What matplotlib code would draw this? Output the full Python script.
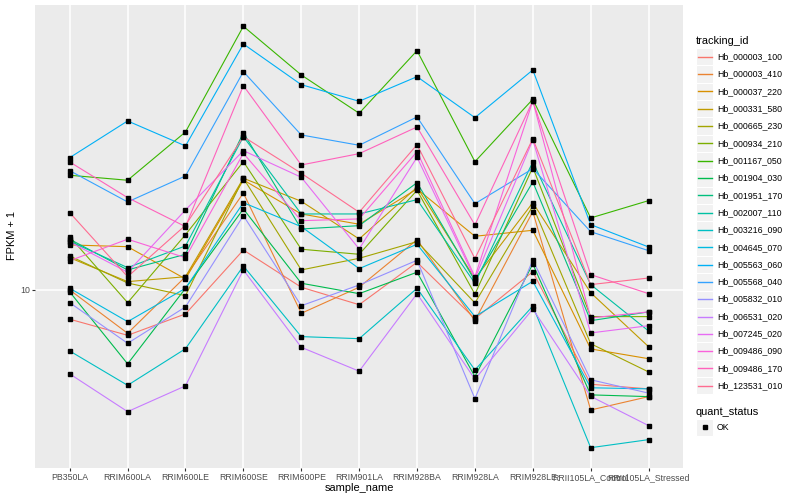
import matplotlib
matplotlib.use('Agg')
import matplotlib.pyplot as plt
from matplotlib.patches import Rectangle
from matplotlib.lines import Line2D
from matplotlib.ticker import NullLocator, FixedLocator

plt.rcParams['font.family'] = ['Liberation Sans', 'DejaVu Sans']

samples = ["PB350LA", "RRIM600LA", "RRIM600LE", "RRIM600SE", "RRIM600PE", "RRIM901LA",
           "RRIM928BA", "RRIM928LA", "RRIM928LE", "RRII105LA_Control", "RRII105LA_Stressed"]
ids = ["Hb_000003_100", "Hb_000003_410", "Hb_000037_220", "Hb_000331_580", "Hb_000665_230",
       "Hb_000934_210", "Hb_001167_050", "Hb_001904_030", "Hb_001951_170", "Hb_002007_110",
       "Hb_003216_090", "Hb_004645_070", "Hb_005563_060", "Hb_005568_040", "Hb_005832_010",
       "Hb_006531_020", "Hb_007245_020", "Hb_009486_090", "Hb_009486_170", "Hb_123531_010"]
colors = ["#F8766D", "#EA8331", "#D89000", "#C09B00", "#A3A500", "#7CAE00", "#39B600", "#00BB4E",
          "#00BF7D", "#00C1A3", "#00BFC4", "#00BAE0", "#00B0F6", "#35A2FF", "#9590FF", "#C77CFF",
          "#E76BF3", "#FA62DB", "#FF62BC", "#FF6C91"]

# FPKM + 1 per gene, in sample order
hb_000003_100 = [7.99, 7.06, 8.32, 13.59, 10.21, 8.93, 12.37, 8.02, 11.51, 4.85, 4.68]
hb_000003_410 = [10.0, 7.17, 11.07, 21.05, 8.36, 10.21, 14.71, 7.9, 18.24, 3.98, 4.41]
hb_000037_220 = [14.13, 13.94, 10.88, 23.26, 17.92, 16.56, 21.71, 15.1, 15.81, 6.36, 5.9]
hb_000331_580 = [12.81, 10.66, 11.07, 23.57, 19.75, 14.79, 22.0, 10.91, 19.54, 9.79, 6.47]
hb_000665_230 = [12.98, 10.55, 9.57, 23.57, 11.66, 12.75, 14.49, 9.05, 19.05, 6.62, 5.33]
hb_000934_210 = [15.05, 9.07, 15.29, 26.77, 13.67, 13.15, 21.49, 9.68, 25.64, 8.15, 8.15]
hb_001167_050 = [24.12, 23.21, 33.63, 75.68, 52.08, 38.82, 62.76, 26.77, 43.22, 17.38, 19.85]
hb_001904_030 = [9.85, 5.67, 10.13, 18.62, 10.53, 9.72, 11.46, 5.14, 12.21, 4.47, 4.41]
hb_001951_170 = [14.76, 11.66, 13.15, 33.45, 15.97, 16.38, 22.79, 10.74, 22.91, 7.9, 8.45]
hb_002007_110 = [14.53, 11.87, 14.02, 32.43, 17.92, 17.92, 20.0, 10.53, 26.71, 10.42, 7.3]
hb_003216_090 = [6.26, 4.81, 6.37, 12.02, 6.99, 6.88, 10.13, 5.41, 8.84, 2.98, 3.17]
hb_004645_070 = [10.13, 7.84, 10.13, 19.54, 16.26, 11.78, 14.2, 8.15, 10.69, 4.72, 4.68]
hb_005563_060 = [27.61, 36.59, 30.2, 66.07, 48.34, 42.56, 51.4, 37.53, 54.12, 16.51, 13.91]
hb_005568_040 = [24.98, 19.65, 23.99, 53.42, 32.86, 30.36, 37.73, 19.39, 25.37, 15.64, 13.52]
hb_005832_010 = [9.07, 6.64, 8.78, 17.69, 8.86, 10.39, 12.56, 4.34, 12.59, 5.02, 4.53]
hb_006531_020 = [5.25, 3.93, 4.79, 11.66, 6.44, 5.36, 9.72, 5.04, 8.64, 4.42, 3.53]
hb_007245_020 = [14.45, 11.46, 18.48, 29.13, 23.75, 13.7, 27.69, 10.91, 31.62, 7.19, 7.6]
hb_009486_090 = [12.52, 14.76, 12.81, 28.55, 17.02, 17.25, 28.91, 11.07, 42.66, 8.07, 8.45]
hb_009486_170 = [26.71, 20.31, 16.26, 47.97, 26.1, 28.47, 34.94, 16.47, 42.66, 11.25, 9.72]
hb_123531_010 = [18.1, 11.07, 16.43, 32.43, 24.49, 18.16, 30.5, 12.72, 31.94, 10.42, 10.96]

series = [hb_000003_100, hb_000003_410, hb_000037_220, hb_000331_580, hb_000665_230,
          hb_000934_210, hb_001167_050, hb_001904_030, hb_001951_170, hb_002007_110,
          hb_003216_090, hb_004645_070, hb_005563_060, hb_005568_040, hb_005832_010,
          hb_006531_020, hb_007245_020, hb_009486_090, hb_009486_170, hb_123531_010]

fig = plt.figure(figsize=(8, 5), dpi=100)
ax = fig.add_axes([35 / 800, 1 - 468.3 / 500, (683.3 - 35) / 800, (468.3 - 5) / 500])
ax.set_facecolor('#EBEBEB')
ax.set_yscale('log')
ax.set_xlim(-0.6, len(samples) - 0.4)
ax.set_ylim(2.544, 89.1)
ax.yaxis.set_major_locator(FixedLocator([10]))
ax.set_yticklabels(['10'])
ax.yaxis.set_minor_locator(NullLocator())
ax.set_xticks(range(len(samples)))
ax.set_xticklabels(samples)
ax.grid(True, which='major', color='white', linewidth=1.1)
ax.set_axisbelow(True)
for s in ax.spines.values():
    s.set_visible(False)
ax.tick_params(axis='both', which='major', length=2.2, width=0.8, color='#333333',
               labelcolor='#4D4D4D', labelsize=6.3, pad=1.5)

x = list(range(len(samples)))
for row, c in zip(series, colors):
    ax.plot(x, row, color=c, lw=0.8, zorder=2)
for row in series:
    ax.plot(x, row, ls='none', marker='s', ms=2.2, color='black', zorder=3)

fig.text(359 / 800, 1 - 488 / 500, 'sample_name', ha='center', va='center', fontsize=7.9)
fig.text(12 / 800, 1 - 236 / 500, 'FPKM + 1', ha='center', va='center', rotation=90, fontsize=7.9)

ov = fig.add_axes([0, 0, 1, 1], facecolor='none')
ov.set_xlim(0, 800)
ov.set_ylim(500, 0)
ov.axis('off')
ov.text(696, 40.7, 'tracking_id', ha='left', va='center', fontsize=7.9)
for i, (name, c) in enumerate(zip(ids, colors)):
    cy = 56.7 + i * 17.32
    ov.add_patch(Rectangle((696, cy - 8.66), 17.3, 17.32, facecolor='#F2F2F2', edgecolor='white', lw=0.8))
    ov.add_line(Line2D([697.7, 711.6], [cy, cy], color=c, lw=1.0))
    ov.text(717, cy, name, ha='left', va='center', fontsize=6.3)
ov.text(696, 411.7, 'quant_status', ha='left', va='center', fontsize=7.9)
ov.add_patch(Rectangle((696, 427.3 - 8.66), 17.3, 17.32, facecolor='#F2F2F2', edgecolor='white', lw=0.8))
ov.plot([704.6], [427.3], marker='s', ms=2.2, color='black')
ov.text(717, 427.3, 'OK', ha='left', va='center', fontsize=6.3)

fig.savefig('out.png', dpi=100)
